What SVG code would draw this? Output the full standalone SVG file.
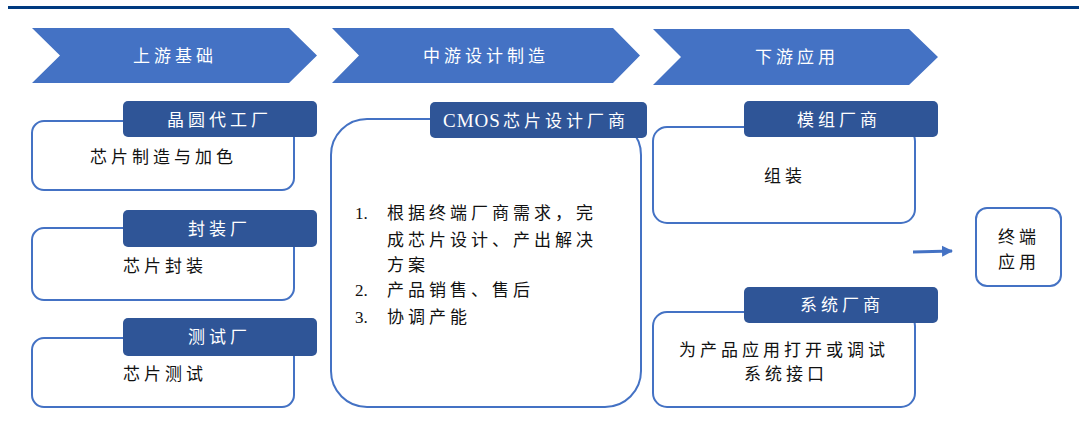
<svg xmlns="http://www.w3.org/2000/svg" width="1086" height="423" viewBox="0 0 1086 423">
<defs>
<style>
.chev{fill:#4472C4;}
.box{fill:#ffffff;stroke:#4472C4;stroke-width:2;}
.hdr{fill:#2F5597;}
.t{font-family:"Liberation Serif","Times New Roman","Noto Sans CJK SC",serif;font-size:17px;letter-spacing:4px;}
.lat{font-family:"Liberation Serif","Times New Roman",serif;font-size:17px;}
.w{fill:#ffffff;}
.k{fill:#111111;}
.conn{stroke:#4472C4;stroke-width:3;fill:none;}
</style>
<marker id="ah" markerWidth="12" markerHeight="12" refX="10" refY="6" orient="auto" markerUnits="userSpaceOnUse">
<path d="M0,0.5 L11,6 L0,11.5 Z" fill="#4472C4"/>
</marker>
</defs>
<rect width="1086" height="423" fill="#ffffff"/>
<line x1="8" y1="7.5" x2="1079" y2="7.5" stroke="#003A80" stroke-width="3"/>

<g id="stage-upstream">
<polygon class="chev" points="32,28 289,28 317,55.5 289,83 32,83 60,55.5"/>
<text class="t w" x="133" y="62">上游基础</text>
</g>
<g id="stage-midstream">
<polygon class="chev" points="332,28 613,28 640,55.5 613,83 332,83 359,55.5"/>
<text class="t w" x="423" y="62">中游设计制造</text>
</g>
<g id="stage-downstream">
<polygon class="chev" points="653,29 909,29 938,57 909,85 653,85 681,57"/>
<text class="t w" x="755" y="63">下游应用</text>
</g>

<g id="foundry">
<rect class="box" x="32" y="121" width="262" height="69" rx="12"/>
<rect class="hdr" x="123" y="101" width="194" height="36" rx="5"/>
<text class="t w" x="167" y="126">晶圆代工厂</text>
<text class="t k" x="90" y="163">芯片制造与加色</text>
</g>
<g id="packaging">
<rect class="box" x="32" y="228" width="262" height="72" rx="12"/>
<rect class="hdr" x="123" y="210" width="194" height="37" rx="5"/>
<text class="t w" x="188" y="235">封装厂</text>
<text class="t k" x="123" y="272">芯片封装</text>
</g>
<g id="testing">
<rect class="box" x="32" y="338" width="262" height="69" rx="12"/>
<rect class="hdr" x="123" y="318" width="194" height="38" rx="5"/>
<text class="t w" x="188" y="343">测试厂</text>
<text class="t k" x="123" y="380">芯片测试</text>
</g>

<g id="cmos-design">
<rect class="box" x="331" y="119" width="310" height="288" rx="36"/>
<rect class="hdr" x="430" y="102" width="217" height="36" rx="5"/>
<text class="w" x="443" y="127"><tspan class="lat" style="font-size:19px" letter-spacing="1">CMOS</tspan><tspan class="t" x="503">芯片设计厂商</tspan></text>
<text class="lat k" x="355" y="219">1.</text>
<text class="t k" x="387" y="219">根据终端厂商需求，完</text>
<text class="t k" x="387" y="246">成芯片设计、产出解决</text>
<text class="t k" x="387" y="271">方案</text>
<text class="lat k" x="355" y="296">2.</text>
<text class="t k" x="387" y="296">产品销售、售后</text>
<text class="lat k" x="355" y="323">3.</text>
<text class="t k" x="387" y="323">协调产能</text>
</g>

<g id="module-maker">
<rect class="box" x="653" y="127" width="262" height="96" rx="14"/>
<rect class="hdr" x="744" y="101" width="194" height="36" rx="5"/>
<text class="t w" x="797" y="126">模组厂商</text>
<text class="t k" x="764" y="182">组装</text>
</g>
<g id="system-maker">
<rect class="box" x="653" y="312" width="262" height="95" rx="14"/>
<rect class="hdr" x="744" y="287" width="194" height="36" rx="5"/>
<text class="t w" x="800" y="311">系统厂商</text>
<text class="t k" x="679" y="356">为产品应用打开或调试</text>
<text class="t k" x="744" y="380">系统接口</text>
</g>
<g id="terminal">
<rect class="box" x="976" y="208" width="85" height="78" rx="11"/>
<text class="t k" x="998" y="243">终端</text>
<text class="t k" x="998" y="268">应用</text>
</g>

<g id="connectors">
<line class="conn" x1="913" y1="252" x2="952" y2="251" marker-end="url(#ah)"/>
</g>
</svg>
